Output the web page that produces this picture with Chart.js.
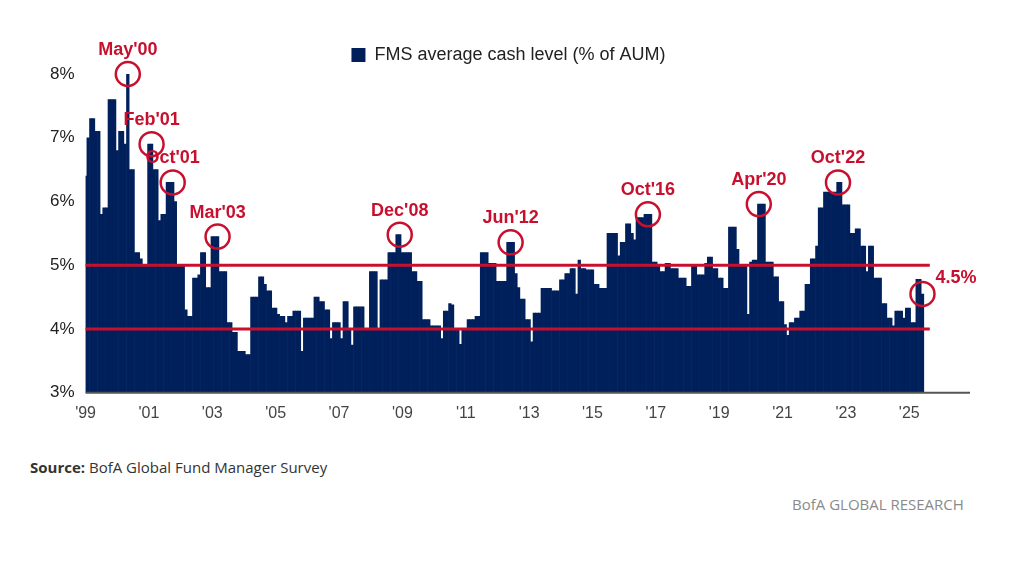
<!DOCTYPE html>
<html>
<head>
<meta charset="utf-8">
<script src="https://cdn.jsdelivr.net/npm/chart.js@4/dist/chart.umd.min.js"></script>
<style>
  body { margin: 0; background: #fff; width: 1024px; height: 566px; overflow: hidden; font-family: "Liberation Sans", Arial, sans-serif; }
  #wrap { position: absolute; left: 0; top: 26px; width: 1024px; height: 400px; }
  .source { position: absolute; left: 30px; top: 457px; font-size: 15px; color: #333; font-family: "Open Sans", sans-serif; }
  .source b { font-weight: 700; }
  .brand { position: absolute; left: 792px; top: 494px; font-size: 15px; color: #8a8a8a; font-family: "Open Sans", sans-serif; }
</style>
</head>
<body>
<div id="wrap"><canvas id="cashChart" width="1024" height="400"></canvas></div>
<div class="source"><b>Source:</b> BofA Global Fund Manager Survey</div>
<div class="brand">BofA GLOBAL RESEARCH</div>
<script>
// monthly FMS cash level (%), Jan'99 .. Jun'25
const y1999 = [6.4,7.0,7.3,7.3,7.1,7.1,5.8,5.9,5.9,7.6,7.6,7.6];
const y2000 = [6.8,7.1,7.1,6.9,8.0,6.5,6.5,5.2,5.2,5.1,5.0,5.0];
const y2001 = [6.9,6.9,6.5,6.5,5.7,5.8,5.8,6.3,6.3,6.3,6.0,5.0];
const y2002 = [5.0,5.0,4.3,4.2,4.2,4.8,4.8,4.85,5.2,5.2,4.65,4.65];
const y2003 = [5.45,5.45,5.45,4.9,4.9,4.9,4.1,4.1,3.95,3.95,3.65,3.65];
const y2004 = [3.65,3.6,3.6,4.5,4.5,4.5,4.82,4.82,4.7,4.6,4.6,4.33];
const y2005 = [4.33,4.23,4.2,4.2,4.1,4.2,4.2,4.28,4.28,4.28,3.65,4.17];
const y2006 = [4.17,4.17,4.17,4.5,4.5,4.43,4.43,4.3,4.3,3.85,4.1,4.1];
const y2007 = [4.1,3.85,4.43,4.43,4.0,3.75,4.35,4.35,4.35,4.35,4.0,4.0];
const y2008 = [4.9,4.9,4.9,4.0,4.77,4.77,4.77,5.2,5.2,5.2,5.48,5.48];
const y2009 = [5.2,5.2,5.2,5.2,4.9,4.9,4.75,4.75,4.15,4.15,4.15,4.05];
const y2010 = [4.05,4.05,4.05,3.85,4.28,4.28,4.4,4.38,4.0,4.0,3.76,4.0];
const y2011 = [4.0,4.15,4.15,4.15,4.2,4.2,5.2,5.2,5.2,5.03,5.03,5.03];
const y2012 = [4.75,4.75,4.75,4.75,5.36,5.36,5.36,4.87,4.65,4.47,4.47,4.15];
const y2013 = [4.15,3.8,4.25,4.25,4.25,4.64,4.64,4.64,4.64,4.6,4.6,4.6];
const y2014 = [4.77,4.77,4.87,4.87,4.95,4.95,4.55,5.08,4.95,4.95,4.93,4.93];
const y2015 = [4.93,4.7,4.7,4.64,4.64,4.64,5.5,5.5,5.5,5.5,5.15,5.36];
const y2016 = [5.36,5.65,5.65,5.5,5.4,5.75,5.75,5.75,5.8,5.8,5.8,5.05];
const y2017 = [5.05,5.0,4.9,4.9,5.03,5.03,4.95,4.95,4.95,4.8,4.8,4.8];
const y2018 = [4.67,4.67,5.0,5.0,4.85,4.85,4.85,5.03,5.13,5.13,4.95,4.95];
const y2019 = [4.8,4.8,4.64,4.64,5.6,5.6,5.6,5.25,5.0,5.0,5.0,4.23];
const y2020 = [5.05,5.08,5.08,5.96,5.96,5.96,5.05,5.05,5.05,4.82,4.82,4.43];
const y2021 = [4.43,4.07,3.9,4.1,4.1,4.17,4.17,4.28,4.28,4.7,4.7,5.1];
const y2022 = [5.1,5.3,5.9,5.9,6.15,6.15,6.15,6.15,6.15,6.3,6.3,5.95];
const y2023 = [5.95,5.95,5.5,5.5,5.57,5.57,5.3,5.3,4.9,5.3,5.3,4.8];
const y2024 = [4.8,4.8,4.4,4.4,4.17,4.17,4.05,4.28,4.28,4.28,4.17,4.33];
const y2025 = [4.33,4.1,4.1,4.78,4.78,4.55];

const cashLevel = [].concat(y1999,y2000,y2001,y2002,y2003,y2004,y2005,y2006,y2007,y2008,
  y2009,y2010,y2011,y2012,y2013,y2014,y2015,y2016,y2017,y2018,y2019,y2020,y2021,y2022,y2023,y2024,y2025);

const firstYear = 1999, lastYear = 2026;
const months = [];
for (let yr = firstYear; yr <= lastYear; yr++) for (let m = 0; m < 12; m++) months.push(yr + '-' + (m + 1));
while (cashLevel.length < months.length) cashLevel.push(null);

const yTicks = [3, 4, 5, 6, 7, 8];
const bandLines = [4, 5];
// callouts: [month index, label]
const callouts = [[16,"May'00"],[25,"Feb'01"],[33,"Oct'01"],[50,"Mar'03"],[119,"Dec'08"],
  [161,"Jun'12"],[213,"Oct'16"],[255,"Apr'20"],[285,"Oct'22"],[317,"4.5%"]];

const RED = '#c8102e', NAVY = '#00205b';

const overlay = {
  id: 'overlay',
  afterDatasetsDraw(chart) {
    const c = chart.ctx, x = chart.scales.x, y = chart.scales.y;
    const last = cashLevel.filter(v => v !== null).length - 1;
    const xEnd = x.getPixelForValue(last) + x.width / months.length / 2 + 6;
    c.save();
    // bottom axis line
    c.strokeStyle = '#555'; c.lineWidth = 2;
    c.beginPath(); c.moveTo(x.left, y.bottom); c.lineTo(x.right, y.bottom); c.stroke();
    // 4% / 5% bands
    c.strokeStyle = RED; c.lineWidth = 3;
    bandLines.forEach(v => {
      c.beginPath(); c.moveTo(x.left, y.getPixelForValue(v)); c.lineTo(xEnd, y.getPixelForValue(v)); c.stroke();
    });
    // circles and labels
    c.font = 'bold 18px "Liberation Sans", Arial, sans-serif';
    c.fillStyle = RED; c.lineWidth = 2.5;
    callouts.forEach(([i, txt]) => {
      const px = x.getPixelForValue(i), py = y.getPixelForValue(cashLevel[i]);
      c.beginPath(); c.arc(px, py, 12, 0, Math.PI * 2); c.stroke();
      if (i === last) {
        c.textAlign = 'left'; c.textBaseline = 'middle';
        c.fillText(txt, px + 13, py - 16);
      } else {
        c.textAlign = 'center'; c.textBaseline = 'bottom';
        c.fillText(txt, px, py - 15);
      }
    });
    c.restore();
  }
};

new Chart(document.getElementById('cashChart'), {
  type: 'bar',
  data: {
    labels: months,
    datasets: [{ label: 'FMS average cash level (% of AUM)', data: cashLevel,
      backgroundColor: NAVY, borderWidth: 0, barPercentage: 1, categoryPercentage: 1 }]
  },
  options: {
    responsive: false, animation: false,
    layout: { padding: { left: 47, right: 54, top: 2, bottom: 0 } },
    plugins: {
      legend: { display: true, labels: { boxWidth: 14, boxHeight: 14, color: '#222', padding: 18,
        font: { size: 18, family: '"Liberation Sans", Arial, sans-serif' } } },
      tooltip: { enabled: false }
    },
    scales: {
      x: {
        offset: false,
        grid: { display: false }, border: { display: false },
        ticks: { autoSkip: false, maxRotation: 0, color: '#444', font: { size: 16 },
          callback: (v, i) => (i % 24 === 0) ? "'" + months[i].slice(2, 4) : '' }
      },
      y: {
        min: 3, max: 8,
        afterBuildTicks: s => { s.ticks = yTicks.map(v => ({ value: v })); },
        grid: { display: false }, border: { display: false },
        ticks: { color: '#222', font: { size: 17 }, callback: v => v + '%' }
      }
    }
  },
  plugins: [overlay]
});
</script>
</body>
</html>
